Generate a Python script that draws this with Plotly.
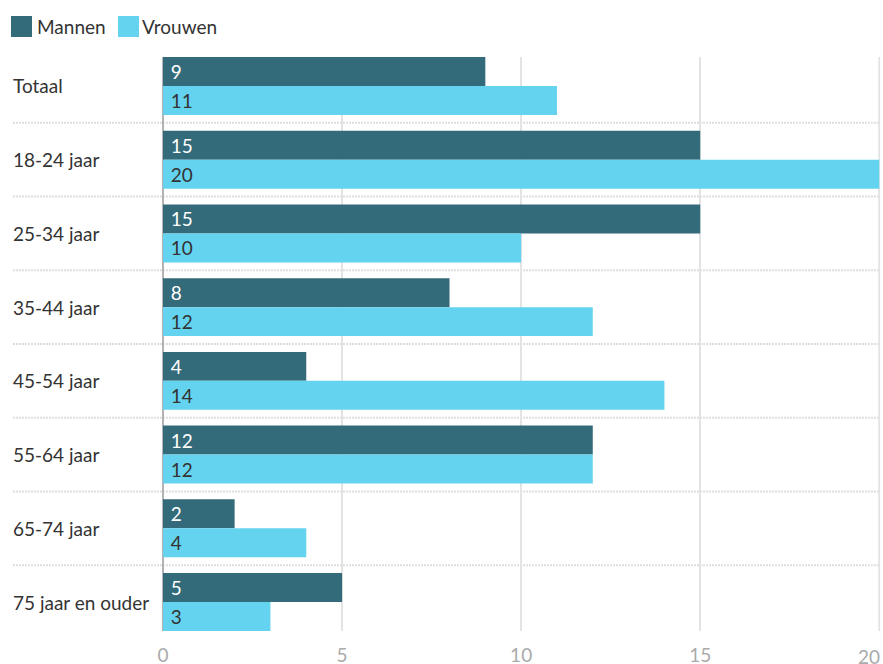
import plotly.graph_objects as go

categories = ["Totaal", "18-24 jaar", "25-34 jaar", "35-44 jaar", "45-54 jaar",
              "55-64 jaar", "65-74 jaar", "75 jaar en ouder"]
mannen = [9, 15, 15, 8, 4, 12, 2, 5]
vrouwen = [11, 20, 10, 12, 14, 12, 4, 3]
x_ticks = [0, 5, 10, 15, 20]

C_M = "#346b7a"
C_V = "#64d3ef"
FONT = "Lato"
FS = 19
W, H = 883, 664
L, R, T, B = 163, 3, 57, 33
PW = W - L - R
PH = H - T - B

def px_x(p):  # page pixel -> paper
    return (p - L) / PW

def px_y(p):
    return (H - B - p) / PH

fig = go.Figure()
fig.add_trace(go.Bar(
    y=categories, x=mannen, name="Mannen", orientation="h",
    marker=dict(color=C_M, line=dict(width=0)),
    text=[str(v) for v in mannen],
    texttemplate="\u00a0%{text}", textposition="inside", insidetextanchor="start",
    textangle=0, textfont=dict(family=FONT, size=FS, color="white"),
    showlegend=False,
))
fig.add_trace(go.Bar(
    y=categories, x=vrouwen, name="Vrouwen", orientation="h",
    marker=dict(color=C_V, line=dict(width=0)),
    text=[str(v) for v in vrouwen],
    texttemplate="\u00a0%{text}", textposition="inside", insidetextanchor="start",
    textangle=0, textfont=dict(family=FONT, size=FS, color="#333333"),
    showlegend=False,
))

gap = 0.214
n = len(categories)
shapes = []
for i in range(n - 1):
    shapes.append(dict(type="line", xref="paper", yref="y",
                       x0=px_x(13), x1=1.0, y0=i + 0.5, y1=i + 0.5,
                       line=dict(color="#dedede", width=2, dash="2px,1px"), layer="below"))
# last vertical grid line sits on the plot edge, draw it explicitly
shapes.append(dict(type="line", xref="x", yref="paper", x0=x_ticks[-1], x1=x_ticks[-1],
                   y0=0, y1=1, line=dict(color="#e3e3e3", width=2), layer="below"))

annotations = []
for name, col, sx, tx in [("Mannen", C_M, 11, 35), ("Vrouwen", C_V, 118, 140)]:
    shapes.append(dict(type="rect", xref="paper", yref="paper",
                       x0=px_x(sx), x1=px_x(sx + 21), y0=px_y(37), y1=px_y(16),
                       fillcolor=col, line=dict(width=0)))
    annotations.append(dict(xref="paper", yref="paper", x=px_x(tx), y=px_y(26.5),
                            text=name, showarrow=False, xanchor="left", yanchor="middle",
                            font=dict(family=FONT, size=FS, color="#333333")))

for c in categories:
    annotations.append(dict(xref="paper", yref="y", x=px_x(11), y=c, text=c,
                            showarrow=False, xanchor="left", yanchor="middle",
                            font=dict(family=FONT, size=FS, color="#333333")))

# right-most tick label is right-aligned to stay inside the chart
tick_text = [str(t) for t in x_ticks[:-1]] + [""]
annotations.append(dict(xref="x", yref="paper", x=x_ticks[-1], y=px_y(656),
                        text=str(x_ticks[-1]), showarrow=False, xanchor="right",
                        yanchor="middle", borderpad=0, xshift=2,
                        font=dict(family=FONT, size=FS, color="#aaaaaa")))

fig.update_layout(
    width=W, height=H,
    margin=dict(l=L, r=R, t=T, b=B, autoexpand=False),
    paper_bgcolor="white", plot_bgcolor="white",
    barmode="group", bargap=gap, bargroupgap=0,
    font=dict(family=FONT, size=FS, color="#333333"),
    xaxis=dict(range=[0, 20.02], tickvals=x_ticks, ticktext=tick_text,
               showgrid=True, gridcolor="#e3e3e3",
               gridwidth=2, zeroline=True, zerolinecolor="#b3b3b3", zerolinewidth=2,
               tickfont=dict(family=FONT, size=FS, color="#aaaaaa"), automargin=False,
               ticklabeloverflow="allow",
               ticks="outside", ticklen=7, tickcolor="rgba(0,0,0,0)", fixedrange=True),
    yaxis=dict(range=[n - 0.5 - gap / 2, -0.5 + gap / 2], showticklabels=False,
               showgrid=False, zeroline=False, fixedrange=True, automargin=False),
    shapes=shapes, annotations=annotations,
    uniformtext=dict(mode=False),
)

fig.write_html(
    "out.html",
    config={"displayModeBar": False, "staticPlot": True},
    post_script="document.body.style.margin='0';document.body.style.overflow='hidden';",
)
